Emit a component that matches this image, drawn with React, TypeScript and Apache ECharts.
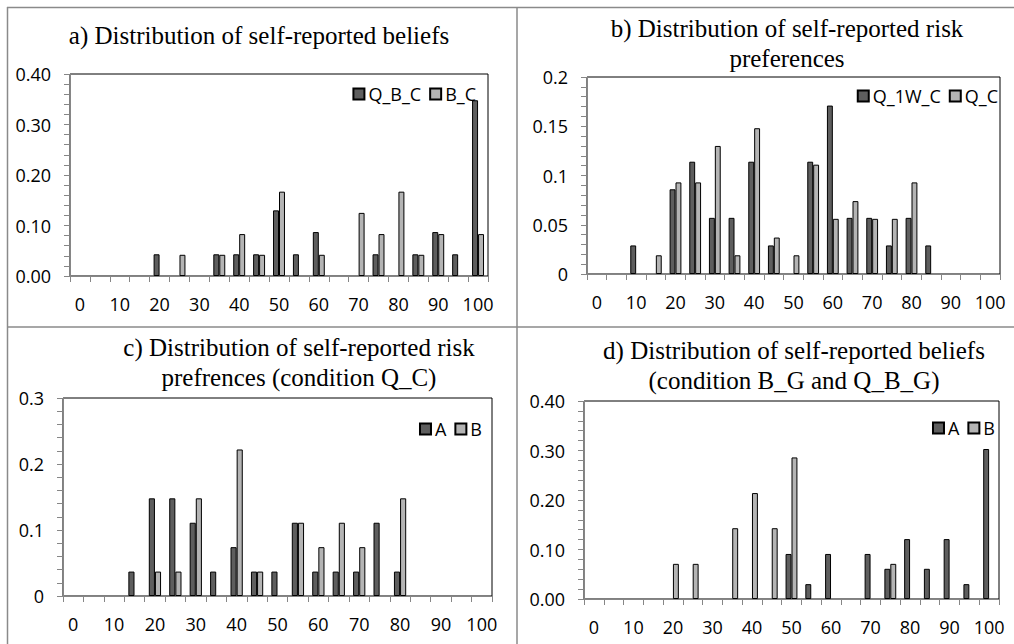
import React, { useEffect, useRef } from "react";
import * as echarts from "echarts";

const categories = ["0","5","10","15","20","25","30","35","40","45","50","55","60","65","70","75","80","85","90","95","100"];

// Panel a
const aQBC = [0,0,0,0,0.043,0,0,0.043,0.043,0.043,0.130,0.043,0.087,0,0,0.043,0,0.043,0.087,0.043,0.348];
const aBC  = [0,0,0,0,0,0.042,0,0.042,0.083,0.042,0.167,0,0.042,0,0.125,0.083,0.167,0.042,0.083,0,0.083];
// Panel b
const bQ1WC = [0,0,0.029,0,0.086,0.114,0.057,0.057,0.114,0.029,0,0.114,0.171,0.057,0.057,0.029,0.057,0.029,0,0,0];
const bQC   = [0,0,0,0.019,0.093,0.093,0.130,0.019,0.148,0.037,0.019,0.111,0.056,0.074,0.056,0.056,0.093,0,0,0,0];
// Panel c
const cA = [0,0,0,0.037,0.148,0.148,0.111,0.037,0.074,0.037,0.037,0.111,0.037,0.037,0.037,0.111,0.037,0,0,0,0];
const cB = [0,0,0,0,0.037,0.037,0.148,0,0.222,0.037,0,0.111,0.074,0.111,0.074,0,0.148,0,0,0,0];
// Panel d
const dA = [0,0,0,0,0,0,0,0,0,0,0.091,0.030,0.091,0,0.091,0.061,0.121,0.061,0.121,0.030,0.303];
const dB = [0,0,0,0,0.071,0.071,0,0.143,0.214,0.143,0.286,0,0,0,0,0.071,0,0,0,0,0];

const titles = [
  "a) Distribution of self-reported beliefs",
  "b) Distribution of self-reported risk\npreferences",
  "c) Distribution of self-reported risk\nprefrences (condition Q_C)",
  "d) Distribution of self-reported beliefs\n(condition B_G and Q_B_G)",
];

const DARK = "#5e5e5e";
const LIGHT = "#b4b4b4";
const AXIS = "#868686";
const SANS = "'Open Sans', sans-serif";
const SERIF = "'Liberation Serif', 'Times New Roman', serif";
const LABEL_SIZE = 18;

const grids = [
  { left: 70, top: 74, width: 418, height: 202 },
  { left: 587, top: 77, width: 413, height: 197 },
  { left: 63, top: 398, width: 429, height: 198 },
  { left: 584, top: 401, width: 415, height: 198 },
];

const yCfg = [
  { max: 0.4, interval: 0.1, dec: 2 },
  { max: 0.2, interval: 0.05, dec: -1 },
  { max: 0.3, interval: 0.1, dec: -1 },
  { max: 0.4, interval: 0.1, dec: 2 },
];

const seriesDefs = [
  [["Q_B_C", aQBC, DARK], ["B_C", aBC, LIGHT]],
  [["Q_1W_C", bQ1WC, DARK], ["Q_C", bQC, LIGHT]],
  [["A", cA, DARK], ["B", cB, LIGHT]],
  [["A", dA, DARK], ["B", dB, LIGHT]],
];

const titlePos = [
  { x: 259, top: 20 },
  { x: 787, top: 13 },
  { x: 299, top: 332 },
  { x: 794, top: 335 },
];

const legendPos = [
  { right: 1014 - 476, top: 85 },
  { right: 1014 - 998, top: 87 },
  { right: 1014 - 482, top: 420 },
  { right: 1014 - 995, top: 419 },
];

export default function App() {
  const ref = useRef<HTMLDivElement>(null);
  useEffect(() => {
    if (!ref.current) return;
    const chart = echarts.init(ref.current, undefined, { renderer: "svg" });
    const series: any[] = [];
    seriesDefs.forEach((defs, gi) => {
      defs.forEach(([name, data, color]: any) => {
        series.push({
          type: "bar",
          name,
          xAxisIndex: gi,
          yAxisIndex: gi,
          data: data.map((v: number) => (v === 0 ? "-" : v)),
          barGap: "0%",
          barCategoryGap: "40%",
          itemStyle: { color, borderColor: "#000", borderWidth: 1 },
        });
      });
    });
    const option: any = {
      animation: false,
      backgroundColor: "#fff",
      title: titles.map((t, i) => ({
        text: t,
        left: titlePos[i].x,
        top: titlePos[i].top,
        textAlign: "center",
        padding: 0,
        textStyle: {
          fontFamily: SERIF,
          fontSize: 25,
          fontWeight: "normal",
          color: "#000",
          lineHeight: 30,
        },
      })),
      legend: seriesDefs.map((defs, i) => ({
        data: defs.map((d: any) => d[0]),
        right: legendPos[i].right,
        top: legendPos[i].top,
        padding: 0,
        itemWidth: 11,
        itemHeight: 11,
        itemGap: 8,
        icon: "rect",
        textStyle: { fontFamily: SANS, fontSize: LABEL_SIZE, color: "#000", padding: [0, 0, 0, -1] },
      })),
      grid: grids.map((g) => ({
        ...g,
        show: true,
        borderColor: "#000",
        borderWidth: 1,
        backgroundColor: "transparent",
      })),
      xAxis: grids.map((_, i) => ({
        type: "category",
        gridIndex: i,
        data: categories,
        boundaryGap: true,
        axisLine: { show: true, lineStyle: { color: AXIS, width: 1 } },
        axisTick: { show: true, interval: 0, length: 6, alignWithLabel: false, lineStyle: { color: AXIS } },
        axisLabel: { interval: 1, margin: 19, fontFamily: SANS, fontSize: LABEL_SIZE, color: "#000" },
        splitLine: { show: false },
      })),
      yAxis: yCfg.map((c, i) => ({
        type: "value",
        gridIndex: i,
        min: 0,
        max: c.max,
        interval: c.interval,
        axisLine: { show: true, lineStyle: { color: AXIS, width: 1 } },
        axisTick: { show: true, length: 6, lineStyle: { color: AXIS } },
        minorTick: { show: true, splitNumber: 5, length: 6, lineStyle: { color: AXIS } },
        axisLabel: {
          margin: 19,
          fontFamily: SANS,
          fontSize: LABEL_SIZE,
          color: "#000",
          formatter: (v: number) => (c.dec > 0 ? v.toFixed(c.dec) : String(Math.round(v * 1000) / 1000)),
        },
        splitLine: { show: false },
      })),
      series,
      graphic: [
        { type: "line", shape: { x1: 7, y1: 7.5, x2: 1014, y2: 7.5 }, style: { stroke: "#8a8a8a", lineWidth: 1.5 } },
        { type: "line", shape: { x1: 7.5, y1: 7, x2: 7.5, y2: 644 }, style: { stroke: "#8a8a8a", lineWidth: 1.5 } },
        { type: "line", shape: { x1: 517, y1: 7, x2: 517, y2: 644 }, style: { stroke: "#8a8a8a", lineWidth: 1.5 } },
        { type: "line", shape: { x1: 7, y1: 327, x2: 1014, y2: 327 }, style: { stroke: "#8a8a8a", lineWidth: 1.5 } },
      ],
    };
    chart.setOption(option);
    return () => chart.dispose();
  }, []);
  return (
    <div
      ref={ref}
      style={{ position: "fixed", left: 0, top: 0, width: 1014, height: 644, background: "#fff" }}
    />
  );
}
